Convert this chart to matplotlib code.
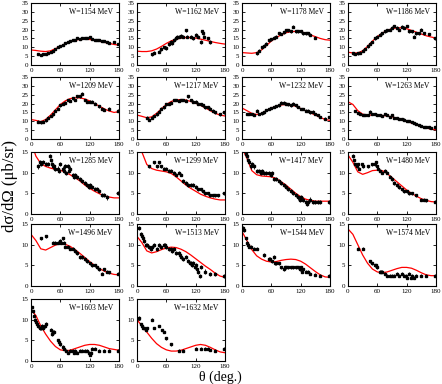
import numpy as np
import matplotlib.pyplot as plt

plt.rcParams['font.family'] = ['Liberation Serif', 'DejaVu Serif']

# energie dei pannelli (MeV)
energies = [1154, 1162, 1178, 1186, 1209, 1217, 1232, 1263,
            1285, 1299, 1417, 1480, 1496, 1513, 1544, 1574, 1603, 1632]

# curva del modello: valori ogni 10 gradi da 0 a 180
theta_model = [0, 10, 20, 30, 40, 50, 60, 70, 80, 90, 100, 110, 120, 130, 140, 150, 160, 170, 180]
model = [
    [8.5, 8.2, 7.8, 7.6, 8.0, 9.2, 10.5, 12.0, 13.2, 14.0, 14.5, 14.6, 14.4, 14.0, 13.4, 12.8, 12.2, 11.6, 11.2],
    [7.8, 7.6, 7.6, 8.0, 9.0, 10.5, 12.2, 13.6, 14.6, 15.2, 15.5, 15.5, 15.2, 14.6, 14.0, 13.3, 12.7, 12.2, 11.8],
    [7.0, 6.8, 6.6, 7.0, 8.5, 11.0, 13.5, 15.5, 17.0, 18.2, 18.8, 19.0, 18.8, 18.0, 17.0, 16.0, 15.0, 14.3, 14.0],
    [7.2, 6.8, 6.8, 8.0, 10.5, 13.5, 16.0, 18.0, 19.5, 20.5, 21.0, 21.0, 20.5, 19.5, 18.5, 17.5, 16.5, 15.8, 15.2],
    [11.0, 10.5, 9.8, 11.0, 13.5, 16.5, 19.5, 21.5, 22.8, 23.3, 23.2, 22.6, 21.5, 20.0, 18.5, 17.0, 15.8, 15.0, 15.5],
    [13.5, 12.8, 12.0, 12.5, 14.5, 17.0, 19.5, 21.2, 22.0, 22.3, 22.0, 21.2, 20.2, 19.0, 17.5, 16.0, 14.5, 13.5, 13.0],
    [17.5, 16.0, 14.5, 13.8, 14.5, 16.0, 17.5, 18.5, 19.2, 19.5, 19.2, 18.5, 17.2, 16.0, 14.8, 13.5, 12.2, 11.0, 10.5],
    [21.0, 19.5, 16.0, 14.0, 13.5, 13.5, 13.5, 13.3, 13.0, 12.5, 11.8, 11.0, 10.0, 9.0, 8.0, 7.0, 6.2, 5.6, 5.2],
    [17.5, 14.0, 12.2, 11.5, 11.1, 10.8, 10.6, 10.1, 9.5, 8.8, 8.0, 7.0, 6.2, 5.5, 4.9, 4.4, 4.1, 3.9, 3.9],
    [17.0, 15.0, 12.0, 11.0, 10.6, 10.4, 10.2, 9.8, 9.0, 8.0, 7.0, 6.2, 5.5, 4.8, 4.3, 3.9, 3.6, 3.4, 3.4],
    [16.0, 13.5, 10.5, 9.5, 9.2, 9.1, 9.0, 8.6, 7.8, 7.0, 6.0, 5.0, 4.2, 3.6, 3.3, 3.1, 3.1, 3.1, 3.1],
    [14.3, 12.5, 10.2, 9.6, 10.0, 10.5, 10.6, 10.5, 9.8, 8.8, 7.8, 6.8, 5.8, 5.0, 4.3, 3.7, 3.3, 3.0, 2.9],
    [12.5, 11.0, 9.0, 8.7, 9.3, 9.9, 10.2, 10.1, 9.6, 8.8, 7.9, 6.9, 5.9, 5.0, 4.2, 3.6, 3.1, 2.8, 2.7],
    [12.0, 10.5, 8.5, 8.0, 8.3, 8.8, 9.2, 9.4, 9.3, 8.9, 8.3, 7.5, 6.6, 5.7, 4.8, 4.0, 3.1, 2.4, 2.1],
    [13.2, 11.0, 8.8, 7.3, 6.5, 6.0, 5.8, 5.9, 6.2, 6.4, 6.5, 6.4, 6.0, 5.3, 4.4, 3.5, 2.7, 2.2, 2.1],
    [13.8, 12.5, 10.0, 7.5, 5.5, 4.1, 3.4, 3.2, 3.4, 3.8, 4.2, 4.5, 4.5, 4.3, 3.8, 3.2, 2.7, 2.5, 2.5],
    [12.5, 11.0, 8.5, 6.5, 4.8, 3.5, 2.7, 2.5, 2.6, 3.0, 3.4, 3.8, 4.0, 4.0, 3.8, 3.4, 3.0, 2.8, 2.6],
    [10.0, 8.5, 7.0, 5.5, 4.2, 3.3, 2.7, 2.4, 2.4, 2.6, 3.0, 3.4, 3.8, 4.0, 3.8, 3.3, 2.7, 2.2, 2.0],
]

# dati sperimentali: angoli e sezioni d'urto
data_theta = [
    [15, 20, 25, 30, 35, 40, 45, 50, 55, 60, 65, 70, 75, 80, 85, 90, 95, 100, 105, 110, 115, 120, 125, 130, 135, 140, 145, 150, 155, 160, 170, 178],
    [30, 35, 45, 50, 55, 60, 65, 70, 72, 75, 80, 82, 85, 90, 95, 100, 103, 110, 115, 120, 125, 130, 133, 135, 138, 145, 150],
    [30, 35, 40, 45, 50, 55, 60, 65, 70, 75, 80, 85, 90, 95, 100, 105, 110, 115, 120, 125, 130, 135, 140, 150],
    [10, 15, 20, 25, 30, 35, 40, 45, 50, 55, 60, 65, 70, 75, 80, 85, 90, 95, 100, 105, 110, 115, 120, 125, 130, 135, 140, 145, 150, 155, 165, 178],
    [15, 20, 25, 30, 35, 40, 45, 50, 55, 60, 65, 70, 75, 80, 85, 90, 95, 100, 105, 110, 115, 120, 125, 130, 140, 145, 150, 160, 178],
    [20, 25, 30, 35, 40, 45, 50, 55, 60, 65, 70, 75, 80, 85, 90, 95, 100, 105, 110, 115, 120, 125, 130, 135, 140, 145, 150, 155, 160, 170, 178],
    [10, 15, 20, 25, 30, 35, 40, 45, 50, 55, 60, 65, 70, 75, 80, 85, 90, 95, 100, 105, 110, 115, 120, 125, 130, 135, 140, 145, 150, 155, 160, 170, 178],
    [15, 20, 25, 30, 35, 40, 45, 50, 55, 60, 65, 70, 75, 80, 85, 90, 95, 100, 105, 110, 115, 120, 125, 130, 135, 140, 145, 150, 155, 160, 165, 170, 178],
    [15, 18, 20, 25, 30, 35, 38, 40, 42, 45, 48, 50, 55, 58, 60, 65, 68, 70, 72, 75, 78, 80, 85, 88, 90, 95, 100, 105, 110, 115, 118, 120, 125, 130, 135, 140, 145, 150, 155, 178],
    [25, 35, 40, 45, 50, 55, 60, 65, 70, 75, 80, 85, 90, 95, 100, 105, 110, 115, 120, 125, 130, 135, 140, 145, 150, 155, 160, 165, 178],
    [8, 10, 12, 15, 18, 20, 25, 30, 35, 38, 40, 45, 50, 55, 60, 62, 65, 70, 75, 80, 85, 90, 95, 100, 105, 110, 115, 118, 120, 125, 130, 132, 135, 140, 145, 150, 155, 160, 178],
    [10, 12, 15, 18, 20, 22, 28, 30, 40, 50, 55, 58, 60, 62, 65, 70, 75, 80, 85, 90, 95, 100, 105, 110, 115, 120, 125, 130, 140, 150, 155, 160, 178],
    [20, 30, 45, 50, 55, 60, 62, 65, 68, 70, 75, 80, 85, 90, 95, 100, 105, 110, 115, 120, 125, 130, 135, 140, 145, 150, 155, 160, 178],
    [5, 8, 10, 12, 15, 18, 20, 25, 28, 30, 35, 40, 45, 50, 55, 58, 60, 65, 70, 72, 75, 80, 85, 88, 90, 95, 100, 105, 108, 110, 112, 115, 118, 120, 122, 125, 128, 130, 140, 150, 160, 178],
    [3, 5, 8, 10, 12, 15, 18, 25, 30, 45, 55, 58, 62, 65, 68, 70, 75, 80, 85, 88, 90, 95, 100, 105, 110, 115, 118, 120, 122, 125, 130, 135, 140, 150, 160, 178],
    [20, 30, 45, 50, 55, 58, 60, 65, 68, 70, 75, 80, 85, 90, 95, 100, 105, 110, 115, 118, 120, 125, 128, 130, 135, 140, 150, 160, 178],
    [3, 5, 6, 8, 10, 12, 15, 18, 20, 22, 25, 28, 30, 40, 42, 45, 48, 55, 58, 60, 65, 68, 72, 75, 80, 85, 88, 90, 95, 100, 105, 110, 115, 118, 120, 122, 125, 130, 140, 150, 160, 178],
    [5, 8, 10, 12, 15, 18, 20, 30, 35, 45, 52, 55, 60, 70, 85, 95, 120, 130, 140, 145, 150, 160, 178],
]
data_xs = [
    [6.0, 5.8, 6.0, 6.3, 6.8, 7.2, 8.0, 9.0, 10.0, 10.8, 11.5, 12.3, 13.0, 13.5, 14.0, 14.2, 15.0, 14.6, 15.0, 15.0, 15.2, 16.0, 14.5, 14.0, 14.0, 14.0, 13.5, 13.5, 13.0, 12.5, 13.0, 12.0],
    [6.0, 7.0, 7.5, 9.0, 10.0, 9.5, 12.0, 13.0, 12.5, 14.0, 15.0, 16.0, 16.0, 16.5, 16.0, 19.5, 16.0, 16.0, 15.0, 17.0, 16.0, 13.0, 19.0, 18.0, 16.0, 15.0, 13.0],
    [6.5, 8.0, 10.0, 11.0, 12.0, 14.0, 14.5, 15.5, 16.0, 18.0, 17.5, 18.5, 19.5, 19.5, 19.0, 21.5, 19.0, 19.0, 19.0, 18.0, 18.0, 18.0, 17.0, 15.5],
    [6.5, 6.2, 6.5, 7.0, 8.0, 9.0, 10.5, 12.0, 13.0, 15.0, 16.0, 17.0, 18.0, 19.0, 19.5, 20.0, 21.0, 22.0, 21.0, 20.0, 21.5, 21.0, 22.0, 19.0, 19.0, 16.0, 18.0, 18.0, 20.0, 18.0, 17.5, 15.0],
    [9.8, 9.5, 9.8, 10.5, 12.0, 13.0, 14.0, 16.0, 17.0, 19.0, 20.0, 20.5, 22.0, 21.5, 23.0, 22.0, 24.0, 24.0, 25.5, 22.0, 21.0, 21.0, 21.0, 20.0, 18.5, 17.0, 16.5, 17.0, 16.0],
    [12.0, 11.0, 12.0, 13.0, 14.0, 15.5, 17.0, 18.0, 19.5, 20.0, 20.5, 22.0, 22.0, 21.5, 22.0, 22.0, 21.5, 24.0, 22.0, 21.0, 21.0, 20.0, 19.5, 19.0, 18.0, 18.0, 17.0, 16.0, 15.0, 14.0, 15.0],
    [14.0, 14.0, 14.0, 13.5, 16.0, 14.0, 14.5, 15.0, 16.5, 17.0, 17.5, 18.0, 18.5, 19.0, 20.5, 20.5, 20.0, 19.5, 19.0, 20.0, 19.0, 18.0, 17.0, 17.0, 16.0, 16.0, 15.0, 15.5, 14.0, 13.5, 12.5, 11.5, 12.5],
    [16.0, 14.5, 14.0, 13.5, 13.5, 13.5, 15.5, 14.0, 14.0, 13.5, 13.5, 13.0, 14.0, 13.5, 12.5, 13.5, 12.0, 12.0, 11.5, 11.5, 11.0, 10.0, 10.0, 9.5, 9.0, 8.5, 8.0, 7.5, 7.0, 7.0, 6.5, 6.0, 6.5],
    [11.5, 12.5, 12.0, 12.5, 12.0, 12.0, 14.0, 13.0, 12.0, 11.5, 11.5, 11.0, 11.0, 10.5, 12.0, 11.0, 10.5, 11.5, 10.0, 11.5, 10.5, 11.0, 9.5, 9.0, 9.5, 9.0, 8.5, 8.0, 7.5, 7.0, 6.5, 7.0, 6.5, 6.0, 6.0, 5.5, 4.5, 4.5, 4.0, 5.0],
    [11.5, 12.5, 11.5, 12.5, 11.5, 11.0, 11.0, 10.5, 10.5, 10.0, 9.5, 10.0, 9.5, 8.0, 7.5, 7.0, 7.0, 7.0, 6.5, 6.0, 6.0, 5.5, 5.0, 5.0, 4.5, 4.5, 4.5, 4.5, 5.0],
    [14.5, 14.0, 13.0, 12.5, 11.5, 12.0, 11.5, 10.5, 10.5, 10.0, 10.5, 10.0, 10.0, 10.0, 9.5, 10.0, 8.5, 8.5, 8.0, 7.5, 7.0, 6.5, 6.0, 5.5, 5.0, 4.5, 4.0, 3.5, 4.0, 3.5, 3.0, 2.5, 3.0, 3.5, 3.0, 3.0, 3.0, 3.0, 3.0],
    [14.0, 13.0, 12.0, 11.5, 12.0, 11.0, 12.0, 11.5, 11.5, 12.0, 12.0, 12.5, 11.5, 11.0, 10.5, 10.0, 10.5, 10.0, 9.0, 8.5, 7.5, 7.0, 6.5, 6.0, 5.5, 5.5, 5.0, 5.0, 4.5, 3.5, 3.5, 3.3, 3.0],
    [11.5, 12.0, 10.5, 10.5, 10.5, 11.0, 10.5, 11.5, 10.5, 9.5, 9.5, 9.0, 9.0, 8.5, 8.0, 7.0, 7.0, 6.5, 6.0, 5.5, 5.0, 5.0, 4.5, 4.0, 3.0, 4.0, 3.5, 3.3, 3.0],
    [14.0, 12.5, 12.0, 11.5, 11.0, 10.0, 10.0, 9.5, 9.0, 9.5, 10.0, 9.0, 10.0, 9.5, 10.0, 10.0, 9.5, 9.0, 9.0, 8.5, 9.0, 8.0, 8.0, 7.5, 7.0, 6.5, 7.0, 6.0, 5.5, 5.5, 5.0, 5.5, 4.5, 5.0, 4.0, 3.5, 2.5, 4.5, 3.5, 3.0, 2.8, 2.5],
    [14.0, 13.5, 11.5, 10.5, 10.0, 9.5, 9.5, 9.0, 9.0, 7.5, 6.5, 6.5, 6.0, 7.0, 5.5, 5.5, 5.5, 4.5, 4.0, 4.5, 4.5, 4.5, 4.5, 4.5, 4.5, 4.5, 4.0, 4.5, 3.5, 4.0, 3.5, 3.5, 3.0, 2.7, 2.5, 2.5],
    [9.0, 9.0, 6.0, 5.5, 5.0, 5.0, 4.5, 3.5, 3.5, 3.5, 3.0, 2.5, 2.5, 2.5, 2.5, 3.0, 2.5, 3.0, 2.5, 2.5, 2.0, 3.0, 2.0, 2.5, 2.0, 2.5, 2.5, 2.5, 2.5],
    [13.0, 12.0, 11.0, 10.0, 9.5, 9.0, 8.5, 8.0, 8.0, 8.5, 8.0, 8.5, 9.0, 7.5, 6.5, 7.0, 7.0, 5.0, 4.5, 4.0, 3.5, 3.0, 2.5, 2.0, 2.5, 2.5, 2.0, 2.5, 2.0, 2.5, 2.5, 2.5, 2.5, 2.0, 1.5, 2.0, 3.0, 3.0, 2.5, 2.5, 2.5, 2.5],
    [10.5, 9.0, 8.5, 8.0, 8.0, 7.5, 8.0, 10.0, 8.0, 8.5, 7.5, 7.0, 5.5, 4.0, 2.5, 2.5, 3.0, 3.0, 3.0, 3.0, 2.7, 2.5, 3.0],
]
# errore tipico per pannello
data_err = [0.6, 1.0, 0.8, 0.8, 0.8, 0.8, 0.7, 0.6,
            0.5, 0.4, 0.5, 0.4, 0.4, 0.5, 0.4, 0.4, 0.4, 0.3]

y_max = [35] * 8 + [15] * 10

fig = plt.figure(figsize=(4.42, 3.84), dpi=100)
W, H = 442.0, 384.0
col_left = [31, 137, 242, 348]
row_top = [3, 77, 152, 224, 299]
ax_w, ax_h = 88, 62

for i, e in enumerate(energies):
    r, c = divmod(i, 4)
    ax = fig.add_axes([col_left[c] / W, (H - row_top[r] - ax_h) / H, ax_w / W, ax_h / H])
    th = np.array(data_theta[i])
    ys = np.array(data_xs[i])
    ax.plot(theta_model, model[i], color='red', lw=0.9, zorder=2)
    ax.errorbar(th, ys, yerr=data_err[i], fmt='s', ms=1.8, color='black',
                ecolor='black', elinewidth=0.6, capsize=0, zorder=3)
    ax.set_xlim(0, 180)
    ax.set_ylim(0, y_max[i])
    ax.set_xticks([0, 60, 120, 180])
    if y_max[i] == 35:
        ax.set_yticks(range(0, 36, 5))
    else:
        ax.set_yticks([0, 5, 10, 15])
    ax.tick_params(direction='in', length=2.5, width=0.6, labelsize=5, pad=2,
                   top=True, right=True)
    for s in ax.spines.values():
        s.set_linewidth(0.8)
    ax.text(0.93, 0.86, 'W=%d MeV' % e, transform=ax.transAxes,
            ha='right', va='center', fontsize=5.5)

fig.text(10 / W, 1 - 186 / H, 'dσ/dΩ (μb/sr)', rotation=90,
         ha='center', va='center', fontsize=12)
fig.text(220 / W, 1 - 377 / H, 'θ (deg.)', ha='center', va='center', fontsize=10)

fig.savefig('out.png', dpi=100)
